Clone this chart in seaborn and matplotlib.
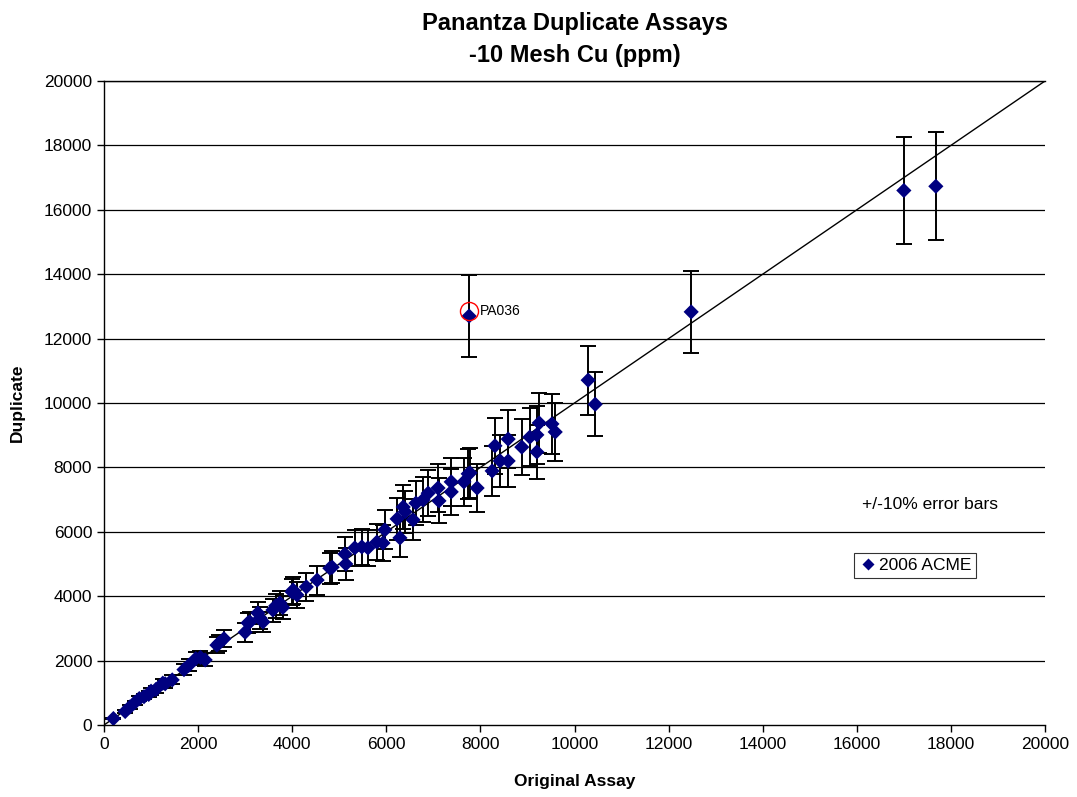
import matplotlib
matplotlib.use("Agg")
import matplotlib.pyplot as plt
import seaborn as sns
import numpy as np
import pandas as pd

# ---- data ----
original = [200, 450, 550, 650, 750, 850, 950, 1000, 1100, 1250, 1300, 1450,
            1700, 1800, 1950, 2050, 2150, 2400, 2450, 2550, 3000, 3060, 3100,
            3270, 3320, 3380, 3590, 3650, 3740, 3800, 4000, 4020, 4100, 4300,
            4530, 4800, 4850, 5120, 5140, 5330, 5480, 5610, 5800, 5930, 5970,
            6230, 6290, 6360, 6400, 6570, 6630, 6780, 6890, 7100, 7120, 7380,
            7380, 7650, 7740, 7780, 7930, 8250, 8310, 8420, 8590, 8590, 8880,
            9050, 9200, 9200, 9250, 9520, 9590, 10290, 10440, 12480, 17000,
            17680, 7760]
duplicate = [200, 420, 560, 690, 820, 880, 950, 1050, 1100, 1300, 1280, 1400,
             1720, 1850, 2060, 2100, 2020, 2480, 2550, 2680, 2880, 3170, 3200,
             3480, 3320, 3200, 3570, 3700, 3790, 3650, 4130, 4190, 4040, 4290,
             4500, 4870, 4900, 5310, 5000, 5500, 5530, 5500, 5680, 5650, 6060,
             6400, 5810, 6770, 6620, 6370, 6890, 6990, 7200, 7360, 6960, 7550,
             7240, 7550, 7800, 7830, 7360, 7890, 8670, 8200, 8880, 8200, 8630,
             8940, 9010, 8480, 9380, 9350, 9100, 10710, 9960, 12830, 16600,
             16730, 12700]
labels = ["2006 ACME"] * len(original)
outlier_label = "PA036"
outlier = (7760, 12700)

df = pd.DataFrame({"Original Assay": original, "Duplicate": duplicate,
                   "series": labels})

# ---- style ----
sns.set_style("white")
plt.rcParams["font.family"] = ["Liberation Sans", "DejaVu Sans"]
plt.rcParams["text.color"] = "black"
plt.rcParams["axes.labelcolor"] = "black"
plt.rcParams["xtick.color"] = "black"
plt.rcParams["ytick.color"] = "black"

fig = plt.figure(figsize=(10.77, 7.97), dpi=100)
ax = fig.add_axes([104 / 1077, 1 - 725 / 797, (1045 - 104) / 1077, (725 - 81) / 797])

# horizontal grid lines
for yv in range(2000, 20001, 2000):
    ax.axhline(yv, color="black", lw=0.9, zorder=0)

# 1:1 line
ax.plot([0, 20000], [0, 20000], color="black", lw=1.0, zorder=1)

# error bars +/-10%
ax.errorbar(df["Original Assay"], df["Duplicate"], yerr=0.1 * df["Duplicate"],
            fmt="none", ecolor="black", elinewidth=1.4, capsize=5.5,
            capthick=1.4, zorder=2)

sns.scatterplot(data=df, x="Original Assay", y="Duplicate", hue="series",
                palette={"2006 ACME": "#000080"}, marker="D", s=60,
                edgecolor="none", zorder=3, ax=ax)

# outlier annotation
ax.plot([outlier[0]], [outlier[1] + 150], marker="o", ms=13, mfc="none",
        mec="red", mew=1.0, zorder=4)
ax.text(outlier[0] + 230, outlier[1] + 150, outlier_label, fontsize=10,
        va="center", ha="left")

ax.text(0.878, 0.342, "+/-10% error bars", transform=ax.transAxes,
        fontsize=12.5, ha="center", va="center")

leg = ax.legend(loc="center", bbox_to_anchor=(0.862, 0.248), fontsize=12.5,
                frameon=True, fancybox=False, handletextpad=0.1,
                borderpad=0.3, handlelength=1.0, markerscale=0.8)
leg.get_frame().set_edgecolor("black")
leg.get_frame().set_linewidth(0.8)

ax.set_xlim(0, 20000)
ax.set_ylim(0, 20000)
ax.set_xticks(range(0, 20001, 2000))
ax.set_yticks(range(0, 20001, 2000))
ax.tick_params(axis="both", direction="out", length=5, width=1,
               labelsize=12.5, bottom=True, left=True, color="black",
               labelcolor="black")
for side in ["left", "bottom", "top"]:
    ax.spines[side].set_visible(True)
    ax.spines[side].set_color("black")
    ax.spines[side].set_linewidth(1.0)
ax.spines["right"].set_visible(False)

ax.set_xlabel("Original Assay", fontsize=12.5, fontweight="bold", labelpad=16)
ax.set_ylabel("Duplicate", fontsize=12.5, fontweight="bold", labelpad=14)
ax.set_title("Panantza Duplicate Assays\n-10 Mesh Cu (ppm)", fontsize=17,
             fontweight="bold", pad=14, linespacing=1.45, color="black")

fig.savefig("out.png", dpi=100)
